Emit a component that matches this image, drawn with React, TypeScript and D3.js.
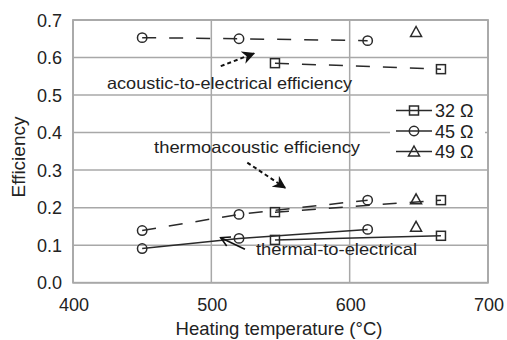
import { useEffect, useRef } from 'react';
import * as d3 from 'd3';

// Heating temperature (°C) per load
const temps32 = [546, 666];
const temps45 = [450, 520, 613];
const temps49 = [648];

// acoustic-to-electrical efficiency
const acoustic32 = [0.585, 0.569];
const acoustic45 = [0.653, 0.65, 0.645];
const acoustic49 = [0.668];

// thermoacoustic efficiency
const thermoac32 = [0.188, 0.22];
const thermoac45 = [0.139, 0.182, 0.22];
const thermoac49 = [0.222];

// thermal-to-electrical efficiency
const thermal32 = [0.114, 0.125];
const thermal45 = [0.091, 0.118, 0.142];
const thermal49 = [0.149];

const xTicks = [400, 500, 600, 700];
const yTicks = [0, 0.1, 0.2, 0.3, 0.4, 0.5, 0.6, 0.7];
const legendLabels = ['32 Ω', '45 Ω', '49 Ω'];
const markerTypes = ['square', 'circle', 'triangle'];

const W = 507;
const H = 340;
const FONT = '"Liberation Sans", Arial, sans-serif';
const INK = '#2a2a2a';
const GRID = '#a8a8a8';

type Pt = { t: number; v: number };
const zip = (ts: number[], vs: number[]): Pt[] => ts.map((t, i) => ({ t, v: vs[i] }));

export default function App() {
  const svgRef = useRef<SVGSVGElement>(null);

  useEffect(() => {
    document.body.style.margin = '0';
    if (!svgRef.current) return;
    const svg = d3.select(svgRef.current);
    svg.selectAll('*').remove();

    const x = d3.scaleLinear().domain([400, 700]).range([73, 488]);
    const y = d3.scaleLinear().domain([0, 0.7]).range([282.7, 20]);

    // arrowheads
    const defs = svg.append('defs');
    defs.append('marker')
      .attr('id', 'headFilled')
      .attr('viewBox', '0 0 10 10')
      .attr('refX', 9).attr('refY', 5)
      .attr('markerWidth', 6.5).attr('markerHeight', 6.5)
      .attr('markerUnits', 'strokeWidth')
      .attr('orient', 'auto')
      .append('path').attr('d', 'M0,0 L10,5 L0,10 L3,5 Z').attr('fill', '#111');
    defs.append('marker')
      .attr('id', 'headOpen')
      .attr('viewBox', '0 0 12 12')
      .attr('refX', 10).attr('refY', 6)
      .attr('markerWidth', 7.5).attr('markerHeight', 7.5)
      .attr('markerUnits', 'strokeWidth')
      .attr('orient', 'auto')
      .append('path').attr('d', 'M1,1 L10,6 L1,11').attr('fill', 'none')
      .attr('stroke', '#111').attr('stroke-width', 1.6);

    // Grid
    svg.append('g').selectAll('line.h').data(yTicks).join('line')
      .attr('x1', x(400)).attr('x2', x(700))
      .attr('y1', d => y(d)).attr('y2', d => y(d))
      .attr('stroke', GRID).attr('stroke-width', 1.5);
    svg.append('g').selectAll('line.v').data(xTicks).join('line')
      .attr('y1', y(0)).attr('y2', y(0.7))
      .attr('x1', d => x(d)).attr('x2', d => x(d))
      .attr('stroke', GRID).attr('stroke-width', 1.5);

    // Tick labels
    svg.append('g').selectAll('text').data(yTicks).join('text')
      .attr('x', 62).attr('y', d => y(d) + 6.5)
      .attr('text-anchor', 'end')
      .attr('font-family', FONT).attr('font-size', 18).attr('fill', '#222')
      .text(d => d3.format('.1f')(d));
    svg.append('g').selectAll('text').data(xTicks).join('text')
      .attr('x', d => x(d) + 1).attr('y', 311)
      .attr('text-anchor', 'middle')
      .attr('font-family', FONT).attr('font-size', 18).attr('fill', '#222')
      .text(d => String(d));

    // Axis titles
    svg.append('text')
      .attr('x', 279).attr('y', 335)
      .attr('text-anchor', 'middle')
      .attr('font-family', FONT).attr('font-size', 18.5).attr('fill', '#222')
      .text('Heating temperature (°C)');
    svg.append('text')
      .attr('transform', 'translate(24.5,157) rotate(-90)')
      .attr('text-anchor', 'middle')
      .attr('font-family', FONT).attr('font-size', 19).attr('fill', '#222')
      .text('Efficiency');

    const line = d3.line<Pt>().x(d => x(d.t)).y(d => y(d.v));
    const plot = svg.append('g');

    const drawLine = (pts: Pt[], dashed: boolean) => {
      if (pts.length < 2) return;
      plot.append('path').datum(pts)
        .attr('fill', 'none').attr('stroke', INK).attr('stroke-width', 1.5)
        .attr('stroke-dasharray', dashed ? '14,13' : null)
        .attr('d', line);
    };

    const drawMarker = (g: d3.Selection<SVGGElement, unknown, null, undefined>, type: string, cx: number, cy: number) => {
      if (type === 'circle') {
        g.append('circle').attr('cx', cx).attr('cy', cy).attr('r', 4.7)
          .attr('fill', 'none').attr('stroke', INK).attr('stroke-width', 1.5);
      } else if (type === 'square') {
        g.append('rect').attr('x', cx - 4.5).attr('y', cy - 4.5).attr('width', 9).attr('height', 9)
          .attr('fill', 'none').attr('stroke', INK).attr('stroke-width', 1.5);
      } else {
        const s = 5.5;
        g.append('path')
          .attr('d', `M${cx},${cy - s} L${cx + s},${cy + s * 0.8} L${cx - s},${cy + s * 0.8} Z`)
          .attr('fill', 'none').attr('stroke', INK).attr('stroke-width', 1.5);
      }
    };

    const series = [
      { pts: zip(temps45, acoustic45), dashed: true, type: 'circle' },
      { pts: zip(temps32, acoustic32), dashed: true, type: 'square' },
      { pts: zip(temps49, acoustic49), dashed: true, type: 'triangle' },
      { pts: zip(temps45, thermoac45), dashed: true, type: 'circle' },
      { pts: zip(temps32, thermoac32), dashed: true, type: 'square' },
      { pts: zip(temps49, thermoac49), dashed: true, type: 'triangle' },
      { pts: zip(temps45, thermal45), dashed: false, type: 'circle' },
      { pts: zip(temps32, thermal32), dashed: false, type: 'square' },
      { pts: zip(temps49, thermal49), dashed: false, type: 'triangle' },
    ];
    series.forEach(s => drawLine(s.pts, s.dashed));
    const mk = plot.append('g');
    series.forEach(s => s.pts.forEach(p => drawMarker(mk, s.type, x(p.t), y(p.v))));

    // Plot border
    svg.append('rect')
      .attr('x', x(400)).attr('y', y(0.7))
      .attr('width', x(700) - x(400)).attr('height', y(0) - y(0.7))
      .attr('fill', 'none').attr('stroke', GRID).attr('stroke-width', 1.8);

    // Legend
    const lg = svg.append('g');
    lg.append('rect').attr('x', 390).attr('y', 100).attr('width', 95).attr('height', 63).attr('fill', 'white');
    legendLabels.forEach((lab, i) => {
      const cy = 110.5 + i * 20.5;
      lg.append('line').attr('x1', 396).attr('x2', 432).attr('y1', cy).attr('y2', cy)
        .attr('stroke', INK).attr('stroke-width', 1.5);
      drawMarker(lg, markerTypes[i], 414, cy);
      lg.append('text').attr('x', 435).attr('y', cy + 6.5)
        .attr('font-family', FONT).attr('font-size', 18).attr('fill', '#222')
        .text(lab);
    });

    // Annotations
    const ann = svg.append('g').attr('font-family', FONT).attr('fill', '#222');
    ann.append('text').attr('x', x(424.6)).attr('y', y(0.516))
      .attr('font-size', 16.5).attr('textLength', 245).attr('lengthAdjust', 'spacingAndGlyphs')
      .text('acoustic-to-electrical efficiency');
    ann.append('text').attr('x', x(458.6)).attr('y', y(0.3456))
      .attr('font-size', 16.5).attr('textLength', 206).attr('lengthAdjust', 'spacingAndGlyphs')
      .text('thermoacoustic efficiency');
    ann.append('text').attr('x', x(532.3)).attr('y', y(0.0738))
      .attr('font-size', 16.5).attr('textLength', 161).attr('lengthAdjust', 'spacingAndGlyphs')
      .text('thermal-to-electrical');

    ann.append('line')
      .attr('x1', x(506.8)).attr('y1', y(0.577)).attr('x2', x(530.8)).attr('y2', y(0.611))
      .attr('stroke', '#111').attr('stroke-width', 2).attr('stroke-dasharray', '4,3')
      .attr('marker-end', 'url(#headFilled)');
    ann.append('line')
      .attr('x1', x(526)).attr('y1', y(0.32)).attr('x2', x(553.3)).attr('y2', y(0.253))
      .attr('stroke', '#111').attr('stroke-width', 2).attr('stroke-dasharray', '4,3')
      .attr('marker-end', 'url(#headFilled)');
    ann.append('line')
      .attr('x1', x(524.3)).attr('y1', y(0.089)).attr('x2', x(506.8)).attr('y2', y(0.12))
      .attr('stroke', '#111').attr('stroke-width', 1.6)
      .attr('marker-end', 'url(#headOpen)');
  }, []);

  return <svg ref={svgRef} width={W} height={H} style={{ display: 'block', background: 'white' }} />;
}
